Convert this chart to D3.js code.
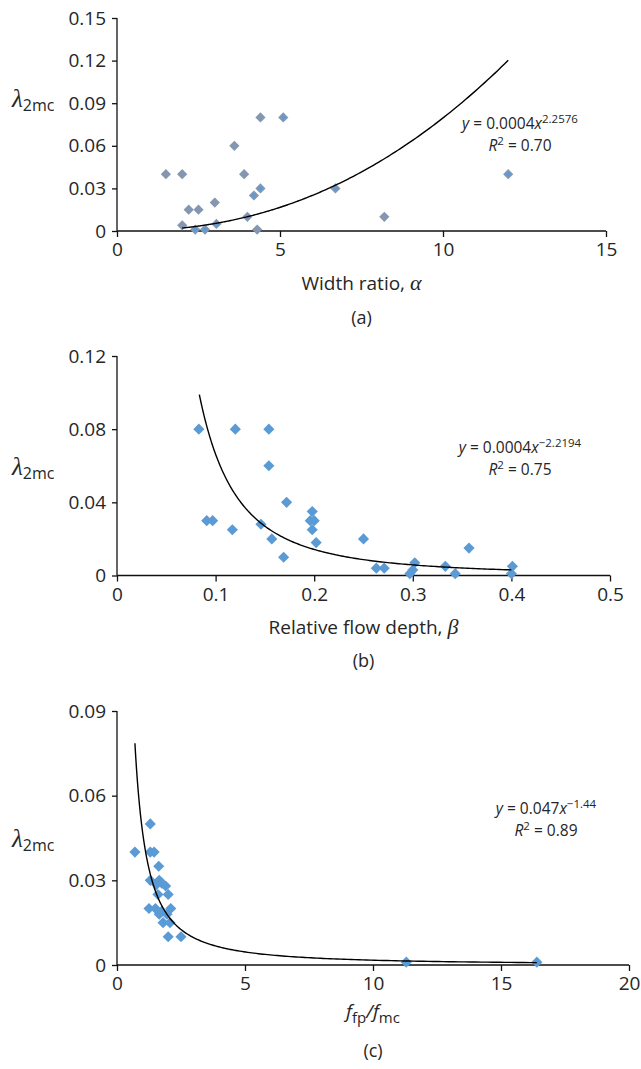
<!DOCTYPE html>
<html>
<head>
<meta charset="utf-8">
<script src="https://cdn.jsdelivr.net/npm/d3@7"></script>
<style>
  body { margin: 0; background: #fff; }
  svg { display: block; }
  text { font-family: "Open Sans", "DejaVu Sans", sans-serif; fill: #262626; }
  .tick text { font-size: 19px; fill: #262626; }
</style>
</head>
<body>
<div id="chart"></div>
<script>
// panel (a): width ratio
var alphaX = [1.5, 2.0, 2.2, 2.5, 3.0, 2.0, 2.4, 2.7, 3.05, 3.6, 3.9, 4.4, 5.1, 4.4, 4.2, 4.0, 4.3, 6.7, 8.2, 12.0];
var alphaY = [0.04, 0.04, 0.015, 0.015, 0.02, 0.004, 0.001, 0.001, 0.005, 0.06, 0.04, 0.08, 0.08, 0.03, 0.025, 0.01, 0.001, 0.03, 0.01, 0.04];
var alphaOverlap = [6, 7, 8, 12, 13, 14, 17, 19]; // points with a second (blue) marker on top

// panel (b): relative flow depth
var betaX = [0.083, 0.12, 0.154, 0.154, 0.172, 0.091, 0.097, 0.117, 0.146, 0.157, 0.169, 0.198, 0.196, 0.2, 0.198, 0.202, 0.25, 0.357, 0.263, 0.271, 0.302, 0.3, 0.297, 0.333, 0.343, 0.401, 0.4];
var betaY = [0.08, 0.08, 0.08, 0.06, 0.04, 0.03, 0.03, 0.025, 0.028, 0.02, 0.01, 0.035, 0.03, 0.03, 0.025, 0.018, 0.02, 0.015, 0.004, 0.004, 0.007, 0.003, 0.001, 0.005, 0.001, 0.005, 0.001];

// panel (c): f_fp / f_mc
var fX = [0.7, 1.3, 1.3, 1.45, 1.63, 1.3, 1.65, 1.75, 1.9, 1.54, 2.0, 1.6, 1.25, 1.5, 2.1, 1.75, 1.95, 1.65, 1.8, 2.07, 2.0, 2.5, 11.3, 16.4];
var fY = [0.04, 0.05, 0.04, 0.04, 0.035, 0.03, 0.03, 0.029, 0.028, 0.0285, 0.025, 0.025, 0.02, 0.02, 0.02, 0.019, 0.018, 0.018, 0.015, 0.015, 0.01, 0.01, 0.001, 0.001];

// power-law fits: a * x^b, drawn between from..to
var fitA = { a: 0.00044, b: 2.2576, from: 2.0, to: 12.0, coef: "0.0004", exp: "2.2576", r2: "0.70" };
var fitB = { a: 0.0004, b: -2.2194, from: 0.0835, to: 0.4, coef: "0.0004", exp: "\u22122.2194", r2: "0.75" };
var fitC = { a: 0.047, b: -1.44, from: 0.7, to: 16.4, coef: "0.047", exp: "\u22121.44", r2: "0.89" };

var xTicksA = [0, 5, 10, 15], yTicksA = [0, 0.03, 0.06, 0.09, 0.12, 0.15];
var xTicksB = [0, 0.1, 0.2, 0.3, 0.4, 0.5], yTicksB = [0, 0.04, 0.08, 0.12];
var xTicksC = [0, 5, 10, 15, 20], yTicksC = [0, 0.03, 0.06, 0.09];

var svg = d3.select("#chart").append("svg").attr("width", 641).attr("height", 1069);

var diamond = d3.symbol().type(d3.symbolSquare);
var greek = "'Liberation Serif', serif";

function drawPanel(p) {
  var x = d3.scaleLinear().domain(p.xDomain).range([p.left, p.right]);
  var y = d3.scaleLinear().domain(p.yDomain).range([p.bottom, p.top]);
  var g = svg.append("g");

  var fmtY = function(d) { return d === 0 ? "0" : d3.format("." + p.yDec + "f")(d); };
  var fmtX = function(d) { return d === 0 ? "0" : d3.format(p.xFmt)(d); };

  var ya = g.append("g").attr("transform", "translate(" + p.left + ",0)")
    .call(d3.axisLeft(y).tickValues(p.yTicks).tickFormat(fmtY).tickSize(5).tickPadding(6));
  var xa = g.append("g").attr("transform", "translate(0," + p.bottom + ")")
    .call(d3.axisBottom(x).tickValues(p.xTicks).tickFormat(fmtX).tickSize(6).tickPadding(6));
  g.selectAll(".domain, .tick line").attr("stroke", "#111").attr("stroke-width", 1.3);
  ya.select(".domain").attr("d", "M0," + p.bottom + "V" + p.top);
  xa.select(".domain").attr("d", "M" + p.left + ",0H" + p.right);

  // points
  var pts = p.xs.map(function(v, i) { return [v, p.ys[i]]; });
  g.selectAll("path.pt").data(pts).enter().append("path")
    .attr("class", "pt")
    .attr("d", diamond.size(p.msize))
    .attr("transform", function(d) { return "translate(" + x(d[0]) + "," + y(d[1]) + ") rotate(45)"; })
    .attr("fill", p.color);
  if (p.overlap) {
    g.selectAll("path.pt2").data(p.overlap.map(function(i) { return pts[i]; })).enter().append("path")
      .attr("class", "pt2")
      .attr("d", diamond.size(14))
      .attr("transform", function(d) { return "translate(" + x(d[0]) + "," + y(d[1]) + ") rotate(45)"; })
      .attr("fill", "#5b9bd5");
  }

  // fitted curve
  var f = p.fit;
  var curve = d3.range(0, 201).map(function(i) {
    var xv = f.from * Math.pow(f.to / f.from, i / 200);
    return [xv, f.a * Math.pow(xv, f.b)];
  });
  g.append("path").datum(curve)
    .attr("d", d3.line().x(function(d) { return x(d[0]); }).y(function(d) { return y(d[1]); }))
    .attr("fill", "none").attr("stroke", "#000").attr("stroke-width", 1.4);

  // equation
  var eq = g.append("text").attr("x", p.eqX).attr("y", p.eqY).attr("text-anchor", "middle")
    .style("font-size", "15.5px");
  eq.append("tspan").style("font-style", "italic").text("y");
  eq.append("tspan").text(" = " + f.coef);
  eq.append("tspan").style("font-style", "italic").text("x");
  eq.append("tspan").attr("dy", -6).style("font-size", "11.5px").text(f.exp);
  var r2 = g.append("text").attr("x", p.eqX).attr("y", p.eqY + 22).attr("text-anchor", "middle")
    .style("font-size", "15.5px");
  r2.append("tspan").style("font-style", "italic").text("R");
  r2.append("tspan").attr("dy", -6).style("font-size", "11.5px").text("2");
  r2.append("tspan").attr("dy", 6).text(" = " + f.r2);

  // y label lambda_2mc
  var yl = g.append("text").attr("x", 12).attr("y", p.ylabY);
  yl.append("tspan").style("font-size", "25px").style("font-style", "italic").style("font-family", greek).text("\u03bb");
  yl.append("tspan").attr("dy", 4).style("font-size", "16px").text("2mc");

  // x label
  var xl = g.append("text").attr("x", (p.left + p.right) / 2).attr("y", p.xlabY)
    .attr("text-anchor", "middle").style("font-size", "19px");
  p.xlabel(xl);

  g.append("text").attr("x", (p.left + p.right) / 2).attr("y", p.capY)
    .attr("text-anchor", "middle").style("font-size", "18px").text(p.caption);
}

drawPanel({
  xs: alphaX, ys: alphaY, overlap: alphaOverlap, color: "#8497b0", msize: 52,
  xDomain: [0, 15], yDomain: [0, 0.15], left: 117, right: 606, top: 18, bottom: 231,
  xTicks: xTicksA, yTicks: yTicksA, yDec: 2, xFmt: "d",
  fit: fitA, eqX: 520, eqY: 129, ylabY: 107, xlabY: 290, capY: 324, caption: "(a)",
  xlabel: function(t) {
    t.append("tspan").text("Width ratio, ");
    t.append("tspan").style("font-style", "italic").style("font-family", greek).style("font-size", "22px").text("\u03b1");
  }
});

drawPanel({
  xs: betaX, ys: betaY, color: "#5b9bd5", msize: 62,
  xDomain: [0, 0.5], yDomain: [0, 0.12], left: 117, right: 610, top: 356, bottom: 575.5,
  xTicks: xTicksB, yTicks: yTicksB, yDec: 2, xFmt: ".1f",
  fit: fitB, eqX: 520, eqY: 453, ylabY: 475, xlabY: 634, capY: 667, caption: "(b)",
  xlabel: function(t) {
    t.append("tspan").text("Relative flow depth, ");
    t.append("tspan").style("font-style", "italic").style("font-family", greek).style("font-size", "22px").text("\u03b2");
  }
});

drawPanel({
  xs: fX, ys: fY, color: "#5b9bd5", msize: 62,
  xDomain: [0, 20], yDomain: [0, 0.09], left: 117, right: 629, top: 711, bottom: 965,
  xTicks: xTicksC, yTicks: yTicksC, yDec: 2, xFmt: "d",
  fit: fitC, eqX: 546, eqY: 814, ylabY: 847, xlabY: 1018, capY: 1057, caption: "(c)",
  xlabel: function(t) {
    t.append("tspan").style("font-style", "italic").text("f");
    t.append("tspan").attr("dy", 5).style("font-size", "15px").text("fp");
    t.append("tspan").attr("dy", -5).style("font-style", "italic").text("/f");
    t.append("tspan").attr("dy", 5).style("font-size", "15px").text("mc");
  }
});
</script>
</body>
</html>
